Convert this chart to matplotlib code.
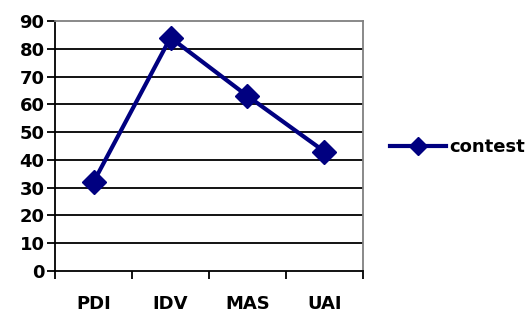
import matplotlib
matplotlib.use("Agg")
import matplotlib.pyplot as plt
from matplotlib.lines import Line2D

categories = ["PDI", "IDV", "MAS", "UAI"]
values = [32, 84, 63, 43]
yticks = list(range(0, 100, 10))

plt.rcParams['font.family'] = ['DejaVu Sans']
plt.rcParams['font.weight'] = 'bold'
FS = 13

fig = plt.figure(figsize=(5.31, 3.13), dpi=100)
ax = fig.add_axes([55/531, 1 - 271/313, (363-55)/531, (271-21)/313])

ax.set_ylim(0, 90)
ax.set_xlim(-0.5, len(categories) - 0.5)
ax.set_yticks(yticks)
for y in yticks[1:-1]:
    ax.axhline(y, color='black', lw=1.3, zorder=1)

line, = ax.plot(range(len(categories)), values, color='#000080', lw=3,
                marker='D', markersize=12, label='contest', zorder=3)

ax.set_xticks([i - 0.5 for i in range(len(categories) + 1)])
ax.set_xticklabels([])
ax.set_xticks(range(len(categories)), minor=True)
ax.set_xticklabels(categories, minor=True, fontsize=FS, fontweight='bold')
ax.tick_params(axis='x', which='minor', length=0, pad=17)
ax.tick_params(axis='x', which='major', length=6, width=1.3, direction='out')
ax.tick_params(axis='y', length=6, width=1.3, direction='out', labelsize=FS, pad=1.5)
for lab in ax.get_yticklabels():
    lab.set_fontweight('bold')

ax.spines['top'].set_color('#808080')
ax.spines['right'].set_color('#808080')
ax.spines['left'].set_color('black')
ax.spines['bottom'].set_color('black')
for s in ax.spines.values():
    s.set_linewidth(1.3)

handle = Line2D([], [], color='#000080', lw=3, marker='D', markersize=9)
leg = fig.legend(handles=[handle], labels=['contest'], loc='center left',
                 bbox_to_anchor=(390/531, 1 - 147/313),
                 frameon=False, fontsize=FS, handlelength=3.1, handletextpad=0.2,
                 borderaxespad=0, borderpad=0)
for t in leg.get_texts():
    t.set_fontweight('bold')

fig.savefig("out.png", dpi=100)
